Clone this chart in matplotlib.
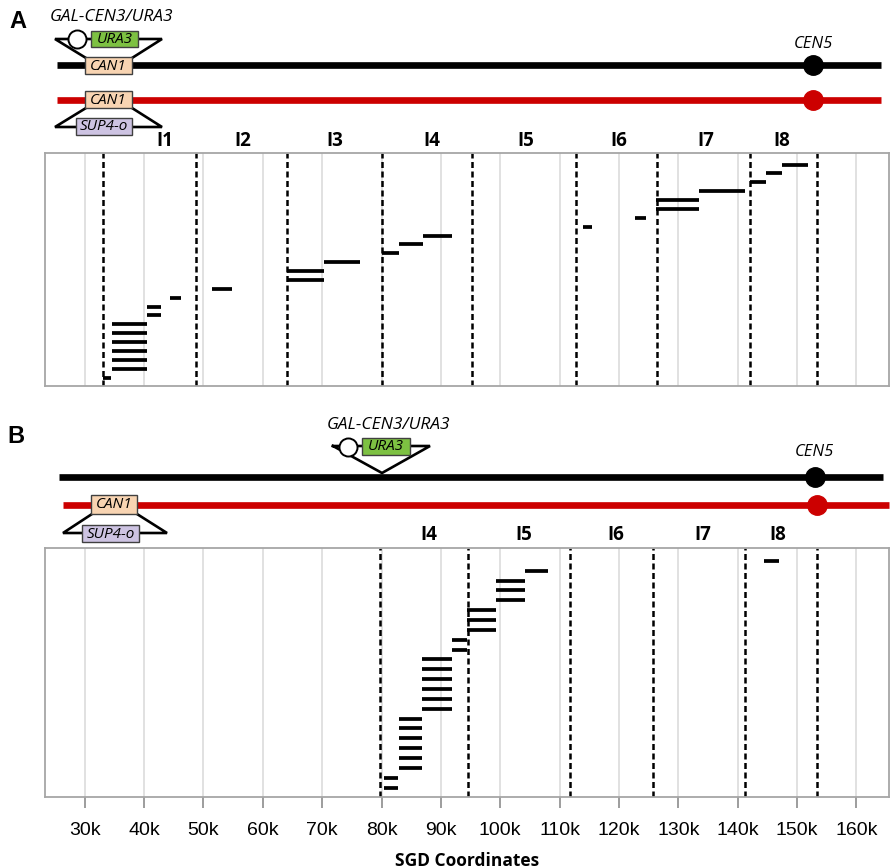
import numpy as np
import matplotlib
matplotlib.use("Agg")
import matplotlib.pyplot as plt
from matplotlib.patches import Rectangle

plt.rcParams['font.family'] = ['Open Sans', 'DejaVu Sans']

# ---- data (SGD coordinates, bp) ----
ticks = np.arange(30000, 160001, 10000)
tick_labels = ['%dk' % (t // 1000) for t in ticks]

# panel A: interval boundaries, labels and the deletion tracts (one per row)
bounds_a = [33100, 48800, 64000, 80050, 95300, 112700, 126400, 142100, 153300]
names_a = ['I1', 'I2', 'I3', 'I4', 'I5', 'I6', 'I7', 'I8']
name_pos_a = [43500, 56600, 72200, 88400, 104300, 120000, 134600, 147400]
starts_a = [33100, 34600, 34600, 34600, 34600, 34600, 34600, 40500, 40500, 44300,
            51500, 64000, 64000, 70300, 80050, 82900, 87000, 113900, 122700,
            126200, 126200, 133500, 142100, 144800, 147400]
ends_a = [34500, 40500, 40500, 40500, 40500, 40500, 40500, 42900, 42900, 46200,
          54800, 70300, 70300, 76400, 82900, 87000, 91900, 115400, 124500,
          133500, 133500, 141200, 144800, 147400, 151900]

# panel B
bounds_b = [79700, 94600, 111800, 125700, 141300, 153400]
names_b = ['I4', 'I5', 'I6', 'I7', 'I8']
name_pos_b = [88000, 104000, 119500, 134100, 146700]
starts_b = [80400, 80400, 82900, 82900, 82900, 82900, 82900, 82900,
            86800, 86800, 86800, 86800, 86800, 86800, 91800, 91800,
            94400, 94400, 94400, 99300, 99300, 99300, 104100, 144500]
ends_b = [82700, 82700, 86800, 86800, 86800, 86800, 86800, 86800,
          91800, 91800, 91800, 91800, 91800, 91800, 94400, 94400,
          99300, 99300, 99300, 104100, 104100, 104100, 108000, 147000]

CEN5 = 152700
XLIM = (23300, 165500)

W, H = 891, 868
fig = plt.figure(figsize=(W / 100, H / 100), dpi=100)


def pos(x0, y0, x1, y1):
    # pixel box -> figure fraction
    return [x0 / W, 1 - y1 / H, (x1 - x0) / W, (y1 - y0) / H]


def tract_axes(p, starts, ends, bounds, show_ticks):
    ax = fig.add_axes(p)
    rows = np.arange(len(starts))
    ax.set_xlim(*XLIM)
    ax.set_ylim(-0.95, len(starts) + 0.3)
    ax.set_xticks(ticks)
    ax.grid(axis='x', color='#dedede', lw=1.3)
    ax.set_axisbelow(True)
    ax.set_yticks([])
    for b in bounds:
        ax.axvline(b, color='black', ls=(0, (2.4, 1.4)), lw=1.8, zorder=2)
    ax.hlines(rows, starts, ends, color='black', lw=2.7, zorder=3,
              capstyle='butt')
    for s in ax.spines.values():
        s.set_color('#a6a6a6')
        s.set_linewidth(1.3)
    if show_ticks:
        ax.set_xticklabels(tick_labels, fontsize=14,
                           family=['Liberation Sans', 'DejaVu Sans'])
        ax.tick_params(axis='x', direction='out', length=8, width=1.2,
                       color='#8c8c8c', pad=10)
        ax.set_xlabel('SGD Coordinates', fontsize=12.5, fontweight='bold',
                      labelpad=9)
    else:
        ax.tick_params(axis='x', length=0, labelbottom=False)
    return ax


def box(ax, x0, x1, y0, y1, color, label):
    ax.add_patch(Rectangle((x0, y0), x1 - x0, y1 - y0, facecolor=color,
                           edgecolor='#404040', lw=1.0, zorder=4, clip_on=False))
    ax.text((x0 + x1) / 2, (y0 + y1) / 2 + 0.5, label, ha='center', va='center',
            style='italic', fontsize=11, zorder=5)


def px2x(px):
    # pixel column -> SGD coordinate, same scale as the tract axes
    return XLIM[0] + (px - 45) / 844 * (XLIM[1] - XLIM[0])


def schematic(p, ylim):
    ax = fig.add_axes(p)
    ax.set_xlim(*XLIM)
    ax.set_ylim(*ylim)
    ax.axis('off')
    return ax


GREEN, PEACH, LILAC, RED = '#7dc142', '#f8d4b2', '#cdc3e2', '#cc0000'
kw = dict(color='black', lw=1.9, clip_on=False, solid_joinstyle='miter')

# ================= panel A =================
sa = schematic(pos(45, 0, 889, 153), (153, 0))
sa.plot([px2x(57), px2x(881)], [65, 65], color='black', lw=4.8,
        solid_capstyle='butt', clip_on=False)
sa.plot([px2x(57), px2x(881)], [100, 100], color=RED, lw=4.8,
        solid_capstyle='butt', clip_on=False)
sa.plot([CEN5], [65], 'o', color='black', ms=14, clip_on=False, zorder=5)
sa.plot([CEN5], [100], 'o', color=RED, ms=14, clip_on=False, zorder=5)
sa.text(CEN5, 44, 'CEN5', ha='center', va='center', style='italic', fontsize=12)
# upper insertion
sa.plot([px2x(86), px2x(55), px2x(162), px2x(132)], [58, 39, 39, 58], **kw)
sa.plot([px2x(77)], [38.5], 'o', mfc='white', mec='black', mew=1.4, ms=13,
        clip_on=False, zorder=6)
box(sa, px2x(91), px2x(138), 31, 47, GREEN, 'URA3')
box(sa, px2x(85), px2x(132), 57, 74, PEACH, 'CAN1')
sa.text(px2x(112), 17, 'GAL-CEN3/URA3', ha='center', va='center',
        style='italic', fontsize=12.5)
# lower insertion
sa.plot([px2x(86), px2x(55), px2x(162), px2x(132)], [108, 127, 127, 108], **kw)
box(sa, px2x(85), px2x(132), 91, 108, PEACH, 'CAN1')
box(sa, px2x(76), px2x(132), 118, 135, LILAC, 'SUP4-o')
for n, x in zip(names_a, name_pos_a):
    sa.text(x, 141, n, ha='center', va='center', fontsize=13.5, fontweight='bold')

tract_axes(pos(45, 153, 889, 386), starts_a, ends_a, bounds_a, False)

# ================= panel B =================
sb = schematic(pos(45, 400, 889, 548), (548, 400))
sb.plot([px2x(59), px2x(883)], [477, 477], color='black', lw=4.8,
        solid_capstyle='butt', clip_on=False)
sb.plot([px2x(63), px2x(889)], [505, 505], color=RED, lw=4.8,
        solid_capstyle='butt', clip_on=False)
sb.plot([CEN5 + 300], [477], 'o', color='black', ms=14, clip_on=False, zorder=5)
sb.plot([CEN5 + 700], [505], 'o', color=RED, ms=14, clip_on=False, zorder=5)
sb.text(CEN5 + 300, 452, 'CEN5', ha='center', va='center', style='italic',
        fontsize=12)
sb.plot([px2x(333), px2x(430), px2x(382), px2x(333)], [446, 446, 473, 446], **kw)
sb.plot([px2x(348)], [447.5], 'o', mfc='white', mec='black', mew=1.4, ms=13,
        clip_on=False, zorder=6)
box(sb, px2x(362), px2x(410), 438, 455, GREEN, 'URA3')
sb.text(px2x(389), 425, 'GAL-CEN3/URA3', ha='center', va='center',
        style='italic', fontsize=12.5)
sb.plot([px2x(92), px2x(63), px2x(167), px2x(137)], [514, 533, 533, 514], **kw)
box(sb, px2x(91), px2x(137), 495, 514, PEACH, 'CAN1')
box(sb, px2x(82), px2x(139), 525, 542, LILAC, 'SUP4-o')
for n, x in zip(names_b, name_pos_b):
    sb.text(x, 535, n, ha='center', va='center', fontsize=13.5, fontweight='bold')

tract_axes(pos(45, 548, 889, 797), starts_b, ends_b, bounds_b, True)

fig.text(18 / W, 1 - 21 / H, 'A', ha='center', va='center', fontsize=17,
         fontweight='bold', family=['Liberation Sans', 'DejaVu Sans'])
fig.text(16 / W, 1 - 436 / H, 'B', ha='center', va='center', fontsize=17,
         fontweight='bold', family=['Liberation Sans', 'DejaVu Sans'])

fig.savefig('out.png', dpi=100)
